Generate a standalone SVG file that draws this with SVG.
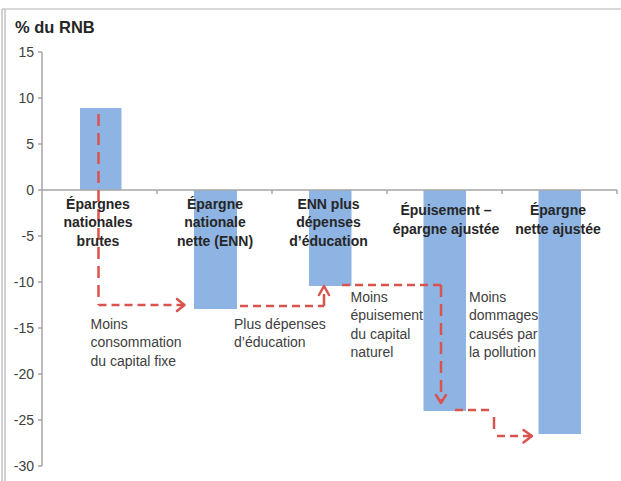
<svg xmlns="http://www.w3.org/2000/svg" width="621" height="481" viewBox="0 0 621 481">
<style>
.frame{stroke:#b3b3b3;stroke-width:1.2;fill:none}
.axis{stroke:#a6a6a6;stroke-width:1.5;fill:none}
.tick{font-family:"Liberation Sans",Arial,sans-serif;font-size:14px;fill:#404040;text-anchor:end}
.bar{fill:#8EB4E3}
.cat{font-family:"Liberation Sans",Arial,sans-serif;font-size:14px;font-weight:bold;fill:#262626;text-anchor:middle}
.note{font-family:"Liberation Sans",Arial,sans-serif;font-size:14px;fill:#404040}
.title{font-family:"Liberation Sans",Arial,sans-serif;font-size:16.5px;font-weight:bold;fill:#262626}
.dh{stroke:#D9534F;stroke-width:2.5;fill:none;stroke-dasharray:8 5}
.dv{stroke:#D9534F;stroke-width:2.5;fill:none;stroke-dasharray:12 7}
.head{stroke:#D9534F;stroke-width:2.5;fill:none;stroke-linecap:round;stroke-linejoin:round}
</style>
<rect x="0" y="0" width="621" height="481" fill="#ffffff"/>
<g id="frame">
<line class="frame" x1="2" y1="9" x2="621" y2="9"/>
<line class="frame" x1="2" y1="9" x2="2" y2="481"/>
<line class="frame" x1="5" y1="9" x2="5" y2="481"/>
</g>
<text class="title" x="15" y="33">% du RNB</text>
<g id="axes">
<path class="axis" d="M42 52 V466 M38 52 H42 M38 98 H42 M38 144 H42 M38 190 H42 M38 236 H42 M38 282 H42 M38 328 H42 M38 374 H42 M38 420 H42 M38 466 H42"/>
<text class="tick" x="34" y="57">15</text>
<text class="tick" x="34" y="103">10</text>
<text class="tick" x="34" y="149">5</text>
<text class="tick" x="34" y="195">0</text>
<text class="tick" x="34" y="241">-5</text>
<text class="tick" x="34" y="287">-10</text>
<text class="tick" x="34" y="333">-15</text>
<text class="tick" x="34" y="379">-20</text>
<text class="tick" x="34" y="425">-25</text>
<text class="tick" x="34" y="471">-30</text>
</g>
<g id="bar1">
<rect class="bar" x="80" y="108" width="41.5" height="82"/>
</g>
<g id="bar2">
<rect class="bar" x="194" y="190" width="43" height="119"/>
</g>
<g id="bar3">
<rect class="bar" x="309" y="190" width="42.5" height="96"/>
</g>
<g id="bar4">
<rect class="bar" x="423.5" y="190" width="42.5" height="221"/>
</g>
<g id="bar5">
<rect class="bar" x="538.5" y="190" width="42.5" height="244"/>
</g>
<path class="axis" d="M42 190 H617 M157 190 V194 M272 190 V194 M387 190 V194 M502 190 V194 M617 190 V194"/>
<g id="connectors">
<path class="dv" d="M98.5 114 V305"/>
<path class="dh" d="M98.5 305 H184"/>
<path class="head" d="M177 299 L184.5 305 L177 311"/>
<path class="dh" d="M240 306 H324"/>
<path class="dv" d="M324 306 V288"/>
<path class="head" d="M319 295 L324 286 L329 295"/>
<path class="dh" d="M342 285 H441"/>
<path class="dv" d="M441 285 V402"/>
<path class="head" d="M436 395 L441 403 L446 395"/>
<path class="dh" d="M455 410 H492"/>
<path class="dv" d="M494 417 V430"/>
<path class="dh" d="M497 436 H530"/>
<path class="head" d="M523.5 430 L532 436 L523.5 442.5"/>
</g>
<g id="labels">
<text class="cat"><tspan x="98" y="208.5">Épargnes</tspan><tspan x="98" y="227">nationales</tspan><tspan x="98" y="245.5">brutes</tspan></text>
<text class="cat"><tspan x="215" y="208.5">Épargne</tspan><tspan x="215" y="227">nationale</tspan><tspan x="215" y="245.5">nette (ENN)</tspan></text>
<text class="cat"><tspan x="328.5" y="208.5">ENN plus</tspan><tspan x="328.5" y="227">dépenses</tspan><tspan x="328.5" y="245.5">d’éducation</tspan></text>
<text class="cat"><tspan x="446" y="215">Épuisement –</tspan><tspan x="446" y="234">épargne ajustée</tspan></text>
<text class="cat"><tspan x="558" y="215">Épargne</tspan><tspan x="558" y="234">nette ajustée</tspan></text>
<text class="note"><tspan x="90.5" y="328.5">Moins</tspan><tspan x="90.5" y="347">consommation</tspan><tspan x="90.5" y="365.5">du capital fixe</tspan></text>
<text class="note"><tspan x="234" y="328.5">Plus dépenses</tspan><tspan x="234" y="347">d’éducation</tspan></text>
<text class="note"><tspan x="350.5" y="301.5">Moins</tspan><tspan x="350.5" y="320">épuisement</tspan><tspan x="350.5" y="338.5">du capital</tspan><tspan x="350.5" y="357">naturel</tspan></text>
<text class="note"><tspan x="469" y="301.5">Moins</tspan><tspan x="469" y="320">dommages</tspan><tspan x="469" y="338.5">causés par</tspan><tspan x="469" y="357">la pollution</tspan></text>
</g>
</svg>
